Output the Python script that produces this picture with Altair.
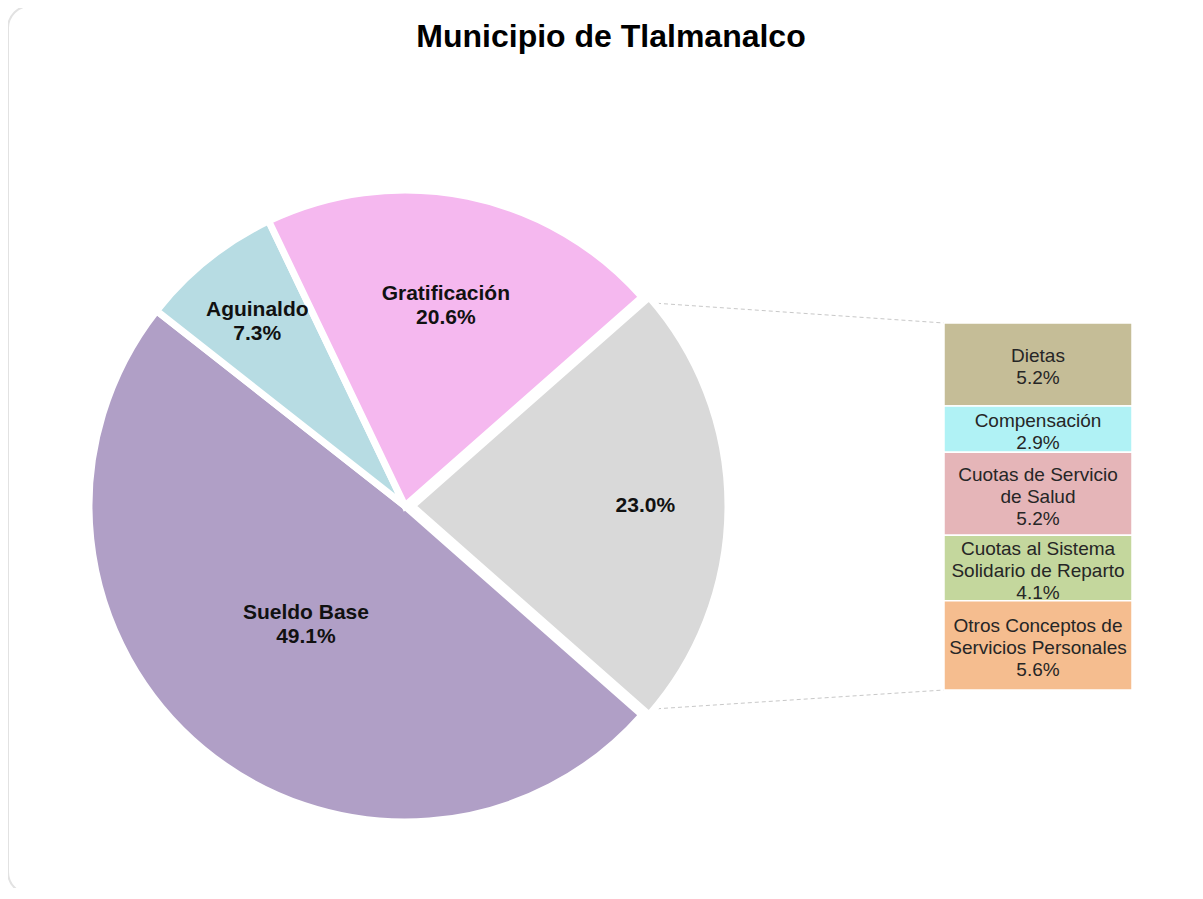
import math
import pandas as pd
import altair as alt

# ---------------- data ----------------
title_text = "Municipio de Tlalmanalco"

pie_cats = ["Otros", "Sueldo Base", "Aguinaldo", "Gratificación"]
pie_values = [23.0, 49.1, 7.3, 20.6]
pie_colors = ["#D9D9D9", "#B09FC6", "#B7DCE3", "#F5B8EF"]

bar_cats = [
    "Dietas",
    "Compensación",
    "Cuotas de Servicio\nde Salud",
    "Cuotas al Sistema\nSolidario de Reparto",
    "Otros Conceptos de\nServicios Personales",
]
bar_values = [5.2, 2.9, 5.2, 4.1, 5.6]
bar_colors = ["#C5BD97", "#B0F2F5", "#E5B5B8", "#C4D79D", "#F5BD8F"]

# ---------------- layout (plot-area pixels) ----------------
W, H = 1187, 880
CX, CY = 397, 498
R = 316
EXPLODE = 7          # the "Otros" slice is pulled out towards the bar
BX0, BX1 = 936, 1124
BY0, BY1 = 315, 682
FONT = "Liberation Sans"
PIE_LH = 24
BAR_LH = 22

total = sum(pie_values)
other_share = pie_values[0] / total
theta0 = math.pi / 2 - math.pi * other_share  # "Otros" slice centred on the right

pie_df = pd.DataFrame({
    "cat": pie_cats,
    "value": pie_values,
    "color": pie_colors,
    "idx": list(range(len(pie_cats))),
})
pie_df["t1"] = pie_df["value"].cumsum()
pie_df["t0"] = pie_df["t1"] - pie_df["value"]
pie_df["label"] = [
    f"{v:.1f}%" if c == "Otros" else f"{c}\n{v:.1f}%"
    for c, v in zip(pie_cats, pie_values)
]
# label placement derived from the slice geometry (near the slice centroid)
alpha = pie_df["value"] / total * 2 * math.pi
mid = theta0 + pie_df["t0"] / total * 2 * math.pi + alpha / 2
centroid = 4 * R * (alpha / 2).apply(math.sin) / (3 * alpha)
lr = centroid * (1 + 0.21 * mid.apply(math.sin).abs())
nlines = pie_df["label"].str.count("\n") + 1
shift = [EXPLODE if c == "Otros" else 0 for c in pie_cats]
pie_df["lx"] = CX + lr * mid.apply(math.sin) + shift
pie_df["ly"] = CY - lr * mid.apply(math.cos) - (nlines - 1) * PIE_LH / 2

bar_df = pd.DataFrame({
    "cat": bar_cats,
    "value": bar_values,
    "color": bar_colors,
    "idx": list(range(len(bar_cats))),
})
bar_df["start"] = bar_df["value"].cumsum() - bar_df["value"]
bar_df["end"] = bar_df["value"].cumsum()
bar_df["label"] = [f"{c}\n{v:.1f}%" for c, v in zip(bar_cats, bar_values)]
bar_total = float(bar_df["end"].iloc[-1])
px_per_unit = (BY1 - BY0) / bar_total
bar_lines = bar_df["label"].str.count("\n") + 1
bar_df["ty"] = (bar_df["start"] + bar_df["end"]) / 2 - (bar_lines - 1) * BAR_LH / 2 / px_per_unit

one = pd.DataFrame({"k": [0]})

# ---------------- layers ----------------
frame = alt.Chart(one).mark_rect(
    filled=False, stroke="#E2E2E2", strokeWidth=2, cornerRadius=22
).encode(x=alt.value(0), x2=alt.value(1230), y=alt.value(-2), y2=alt.value(886))

title = alt.Chart(pd.DataFrame({"t": [title_text]})).mark_text(
    font=FONT, fontSize=32, fontWeight="bold", color="#000000",
    align="center", baseline="middle"
).encode(text="t:N", x=alt.value(603), y=alt.value(29))

# connector lines from the "Otros" slice edges to the bar corners
ta = theta0
tb = theta0 + 2 * math.pi * other_share
rc = R - 8
pA = (CX + EXPLODE + rc * math.sin(ta), CY - rc * math.cos(ta))
pB = (CX + EXPLODE + rc * math.sin(tb), CY - rc * math.cos(tb))
rule_top = alt.Chart(one).mark_rule(color="#C8C8C8", strokeWidth=1, strokeDash=[4, 3]).encode(
    x=alt.value(pA[0]), y=alt.value(pA[1]), x2=alt.value(BX0), y2=alt.value(BY0)
)
rule_bot = alt.Chart(one).mark_rule(color="#C8C8C8", strokeWidth=1, strokeDash=[4, 3]).encode(
    x=alt.value(pB[0]), y=alt.value(pB[1]), x2=alt.value(BX0), y2=alt.value(BY1)
)

theta_scale = alt.Scale(domain=[0, total], range=[theta0, theta0 + 2 * math.pi])
arc_base = alt.Chart(pie_df).encode(
    theta=alt.Theta("t0:Q", stack=None, scale=theta_scale),
    theta2="t1:Q",
    y=alt.value(CY),
    fill=alt.Fill("color:N", scale=None),
)
arcs_main = arc_base.transform_filter(alt.datum.cat != "Otros").mark_arc(
    outerRadius=R, stroke="white", strokeWidth=7
).encode(x=alt.value(CX))
arc_other = arc_base.transform_filter(alt.datum.cat == "Otros").mark_arc(
    outerRadius=R, stroke="white", strokeWidth=7
).encode(x=alt.value(CX + EXPLODE))

pie_text = alt.Chart(pie_df).mark_text(
    font=FONT, fontSize=21, fontWeight="bold", color="#111111",
    lineBreak="\n", lineHeight=PIE_LH, align="center", baseline="middle"
).encode(
    text="label:N",
    x=alt.X("lx:Q", scale=None, axis=None),
    y=alt.Y("ly:Q", scale=None, axis=None),
)

yscale = alt.Scale(domain=[0, bar_total], range=[BY0, BY1])
bars = alt.Chart(bar_df).mark_bar(stroke="white", strokeWidth=1.5).encode(
    y=alt.Y("start:Q", scale=yscale, axis=None),
    y2="end:Q",
    x=alt.value(BX0),
    x2=alt.value(BX1),
    fill=alt.Fill("color:N", scale=None),
)
bar_text = alt.Chart(bar_df).mark_text(
    font=FONT, fontSize=19, color="#262626", lineBreak="\n", lineHeight=BAR_LH,
    align="center", baseline="middle", dy=3
).encode(
    y=alt.Y("ty:Q", scale=yscale, axis=None),
    x=alt.value((BX0 + BX1) / 2),
    text="label:N",
)

chart = alt.layer(
    frame, title, rule_top, rule_bot, arcs_main, arc_other, pie_text, bars, bar_text
).resolve_scale(y="independent").properties(
    width=W, height=H,
    autosize=alt.AutoSizeParams(type="none"),
    padding=0,
).configure_view(stroke=None)

chart.save("out.html", embed_options={"renderer": "svg", "actions": False})
